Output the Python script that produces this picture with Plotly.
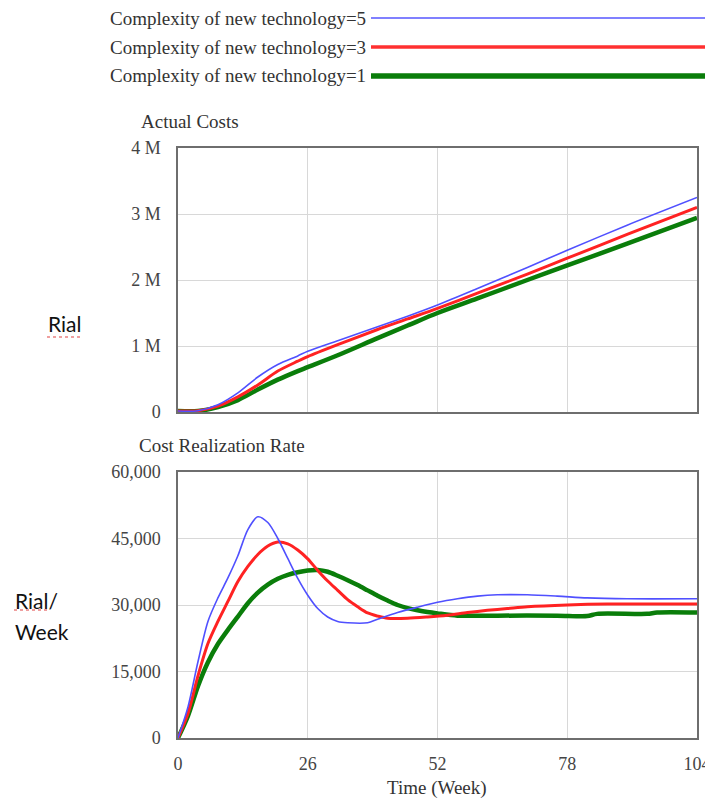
import plotly.graph_objects as go

# ---------------- data ----------------
series_names = ["Complexity of new technology=5",
                "Complexity of new technology=3",
                "Complexity of new technology=1"]

# Actual Costs (Rial)
cost_weeks = [0, 4, 8, 12, 16, 20, 24, 26, 32, 40, 46, 52, 60, 70, 78, 90, 104]
cost_c5 = [15000, 20000, 110000, 290000, 530000, 720000, 850000, 920000, 1080000, 1290000,
           1450000, 1620000, 1870000, 2190000, 2450000, 2830000, 3250000]
cost_c3 = [15000, 20000, 90000, 230000, 410000, 620000, 770000, 840000, 1020000, 1250000,
           1410000, 1570000, 1800000, 2090000, 2330000, 2690000, 3100000]
cost_c1 = [15000, 15000, 75000, 180000, 340000, 490000, 620000, 680000, 860000, 1120000,
           1310000, 1500000, 1720000, 2000000, 2220000, 2550000, 2940000]

# Cost Realization Rate (Rial/Week)
rate_weeks_c5 = [0, 2, 4, 6, 8, 10, 12, 14, 16, 18, 20, 22, 24, 26, 28, 30, 32, 34, 38, 40,
                 44, 48, 52, 56, 60, 64, 70, 76, 82, 90, 104]
rate_c5 = [0, 7000, 17200, 26300, 31600, 36100, 41100, 47000, 49900, 48600, 45000, 40500,
           36000, 32200, 29200, 27300, 26300, 26000, 26000, 26800, 28300, 29500, 30600,
           31400, 32000, 32300, 32300, 32000, 31600, 31400, 31400]

rate_weeks_c3 = [0, 2, 4, 6, 8, 10, 12, 14, 16, 18, 20, 22, 24, 26, 28, 30, 32, 34, 36, 38,
                 40, 42, 46, 50, 54, 58, 62, 66, 70, 78, 86, 104]
rate_c3 = [0, 5500, 14000, 21300, 26300, 30800, 35300, 38700, 41400, 43300, 44200, 43800,
           42400, 40400, 37800, 35400, 33300, 31200, 29600, 28200, 27500, 27000, 27000,
           27300, 27700, 28300, 28800, 29200, 29600, 30000, 30200, 30200]

rate_weeks_c1 = [0, 2, 4, 6, 8, 10, 12, 14, 16, 18, 20, 22, 24, 26, 28, 30, 32, 34, 36, 38,
                 40, 42, 44, 46, 48, 50, 52, 56, 64, 76, 82, 84, 94, 96, 104]
rate_c1 = [0, 5000, 11700, 17100, 21200, 24400, 27400, 30400, 32800, 34600, 35900, 36800,
           37400, 37800, 37900, 37500, 36600, 35600, 34500, 33300, 32100, 31000, 30000,
           29300, 28800, 28400, 28100, 27600, 27600, 27600, 27500, 28000, 28000, 28300, 28300]

x_ticks = [0, 26, 52, 78, 104]
cost_ticks = [0, 1000000, 2000000, 3000000, 4000000]
cost_tick_text = ["0", "1 M", "2 M", "3 M", "4 M"]
rate_ticks = [0, 15000, 30000, 45000, 60000]
rate_tick_text = ["0", "15,000", "30,000", "45,000", "60,000"]

# ---------------- styling ----------------
colors = ["#5050ff", "#ff2222", "#0a7d0a"]
widths = [1.6, 3.0, 4.5]
legend_widths = [2.0, 3.5, 5.5]
legend_colors = ["#8080ff", "#ff3030", "#0a7d0a"]

# the page has an 8px body margin, so the figure starts at (8, 8)
OFF = 8
W, H = 713 - OFF, 801 - OFF
ML, MR = 178 - OFF, 16
PW = W - ML - MR


def px_x(p):
    return (p - OFF - ML) / PW


def px_y(p):
    return 1 - (p - OFF) / H


SERIF = "Liberation Serif, Times New Roman, serif"
SANS = "Lato, Liberation Sans, sans-serif"

fig = go.Figure()

cost_x = [cost_weeks, cost_weeks, cost_weeks]
cost_y = [cost_c5, cost_c3, cost_c1]
rate_x = [rate_weeks_c5, rate_weeks_c3, rate_weeks_c1]
rate_y = [rate_c5, rate_c3, rate_c1]

# draw thick ones first so the thin blue stays on top
for i in [2, 1, 0]:
    fig.add_trace(go.Scatter(x=cost_x[i], y=cost_y[i], mode="lines", name=series_names[i],
                             line=dict(color=colors[i], width=widths[i], shape="spline",
                                       smoothing=0.8),
                             xaxis="x", yaxis="y", showlegend=False))
for i in [2, 1, 0]:
    fig.add_trace(go.Scatter(x=rate_x[i], y=rate_y[i], mode="lines", name=series_names[i],
                             line=dict(color=colors[i], width=widths[i], shape="spline",
                                       smoothing=0.8),
                             xaxis="x2", yaxis="y2", showlegend=False))

axis_common = dict(showline=True, mirror=True, linecolor="#6e6e6e", linewidth=1.5,
                   showgrid=True, gridcolor="#d8d8d8", gridwidth=1, zeroline=False,
                   automargin=False, tickfont=dict(family=SERIF, size=18, color="#444"),
                   ticks="outside", tickcolor="rgba(0,0,0,0)")

fig.update_layout(
    width=W, height=H,
    margin=dict(l=ML, r=MR, t=0, b=0, pad=0),
    paper_bgcolor="white", plot_bgcolor="white",
    showlegend=False,
    xaxis=dict(domain=[0, 1], range=[0, 104], tickvals=x_ticks, showticklabels=False,
               anchor="y", **axis_common),
    yaxis=dict(domain=[px_y(412), px_y(148)], range=[0, 4000000], tickvals=cost_ticks,
               ticktext=cost_tick_text, ticklen=12, anchor="x", **axis_common),
    xaxis2=dict(domain=[0, 1], range=[0, 104], tickvals=x_ticks, ticklen=9,
                anchor="y2", **axis_common),
    yaxis2=dict(domain=[px_y(738), px_y(472)], range=[0, 60000], tickvals=rate_ticks,
                ticktext=rate_tick_text, ticklen=12, anchor="x2", **axis_common),
)

annotations = []
shapes = []

# manual legend: text on the left, line to the right
legend_rows = [18, 47, 76]
for i in range(3):
    annotations.append(dict(x=px_x(368), y=px_y(legend_rows[i]), xref="paper", yref="paper",
                            text=series_names[i], showarrow=False, xanchor="right",
                            yanchor="middle",
                            font=dict(family=SERIF, size=19, color="#333")))
    shapes.append(dict(type="line", xref="paper", yref="paper",
                       x0=px_x(371), x1=px_x(713), y0=px_y(legend_rows[i]),
                       y1=px_y(legend_rows[i]),
                       line=dict(color=legend_colors[i], width=legend_widths[i])))

# chart titles
annotations.append(dict(x=px_x(139), y=px_y(121), xref="paper", yref="paper",
                        text="Actual Costs", showarrow=False, xanchor="left", yanchor="middle",
                        font=dict(family=SERIF, size=19, color="#333")))
annotations.append(dict(x=px_x(137), y=px_y(445), xref="paper", yref="paper",
                        text="Cost Realization Rate", showarrow=False, xanchor="left",
                        yanchor="middle", font=dict(family=SERIF, size=19, color="#333")))
# x-axis title
annotations.append(dict(x=px_x(437), y=px_y(788), xref="paper", yref="paper",
                        text="Time (Week)", showarrow=False, xanchor="center",
                        yanchor="middle", font=dict(family=SERIF, size=19, color="#333")))
# y-axis unit labels
annotations.append(dict(x=px_x(46), y=px_y(323), xref="paper", yref="paper",
                        text="Rial", showarrow=False, xanchor="left", yanchor="middle",
                        font=dict(family=SANS, size=21, color="#111")))
annotations.append(dict(x=px_x(13), y=px_y(600), xref="paper", yref="paper",
                        text="Rial/", showarrow=False, xanchor="left", yanchor="middle",
                        font=dict(family=SANS, size=21, color="#111")))
annotations.append(dict(x=px_x(13), y=px_y(631), xref="paper", yref="paper",
                        text="Week", showarrow=False, xanchor="left", yanchor="middle",
                        font=dict(family=SANS, size=21, color="#111")))

# red spell-check squiggles under the unit labels
shapes.append(dict(type="line", xref="paper", yref="paper", x0=px_x(47), x1=px_x(82),
                   y0=px_y(337), y1=px_y(337), line=dict(color="#e04040", width=1.2, dash="dot")))
shapes.append(dict(type="line", xref="paper", yref="paper", x0=px_x(14), x1=px_x(48),
                   y0=px_y(610), y1=px_y(610), line=dict(color="#e04040", width=1.2, dash="dot")))

fig.update_layout(annotations=annotations, shapes=shapes)

fig.write_html("out.html")
